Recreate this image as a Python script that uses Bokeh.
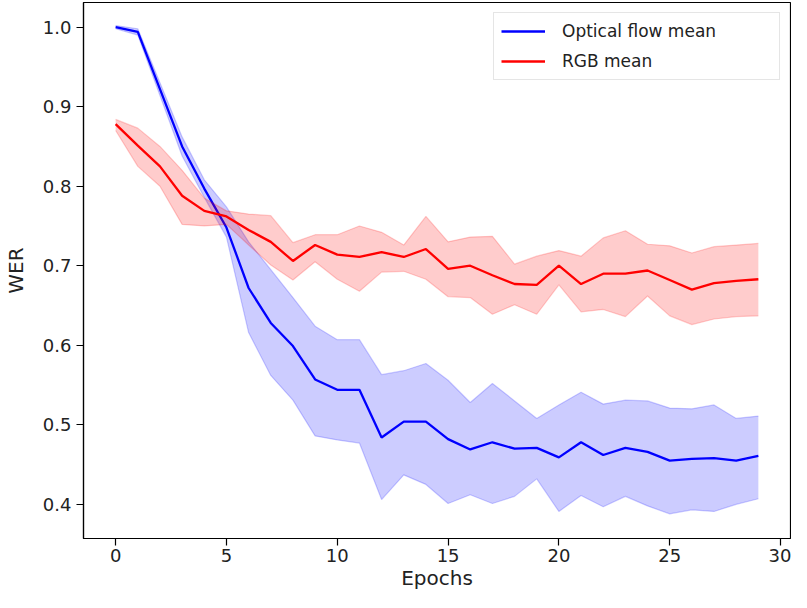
from bokeh.plotting import figure
from bokeh.models import Range1d, FixedTicker, Legend, LegendItem, NumeralTickFormatter
from bokeh.embed import file_html
from bokeh.resources import INLINE

epochs = list(range(30))

flow_mean = [1.000, 0.994, 0.922, 0.850, 0.797, 0.748, 0.672, 0.628, 0.599, 0.557,
             0.544, 0.544, 0.484, 0.504, 0.504, 0.482, 0.469, 0.478, 0.470, 0.471,
             0.459, 0.478, 0.462, 0.471, 0.466, 0.455, 0.457, 0.458, 0.455, 0.461]
flow_upper = [1.002, 0.998, 0.930, 0.862, 0.808, 0.774, 0.730, 0.695, 0.660, 0.624,
              0.607, 0.607, 0.563, 0.568, 0.577, 0.556, 0.528, 0.552, 0.530, 0.508,
              0.525, 0.541, 0.526, 0.531, 0.530, 0.521, 0.520, 0.525, 0.508, 0.511]
flow_lower = [0.998, 0.990, 0.914, 0.838, 0.786, 0.736, 0.616, 0.562, 0.531, 0.486,
              0.481, 0.477, 0.406, 0.437, 0.425, 0.401, 0.412, 0.401, 0.410, 0.432,
              0.391, 0.411, 0.397, 0.410, 0.398, 0.388, 0.393, 0.391, 0.400, 0.407]

rgb_mean = [0.878, 0.851, 0.825, 0.788, 0.769, 0.762, 0.745, 0.730, 0.706, 0.726,
            0.714, 0.711, 0.717, 0.711, 0.721, 0.696, 0.700, 0.688, 0.677, 0.676,
            0.700, 0.677, 0.690, 0.690, 0.694, 0.682, 0.670, 0.678, 0.681, 0.683]
rgb_upper = [0.884, 0.873, 0.850, 0.820, 0.785, 0.769, 0.765, 0.763, 0.729, 0.739,
             0.739, 0.750, 0.742, 0.726, 0.762, 0.730, 0.736, 0.737, 0.702, 0.712,
             0.719, 0.712, 0.735, 0.744, 0.727, 0.725, 0.716, 0.724, 0.726, 0.728]
rgb_lower = [0.870, 0.825, 0.800, 0.752, 0.750, 0.752, 0.726, 0.701, 0.682, 0.705,
             0.683, 0.668, 0.692, 0.693, 0.683, 0.661, 0.660, 0.639, 0.651, 0.639,
             0.676, 0.642, 0.645, 0.636, 0.662, 0.637, 0.626, 0.633, 0.636, 0.637]

x_ticks = [0, 5, 10, 15, 20, 25, 30]
y_ticks = [0.4, 0.5, 0.6, 0.7, 0.8, 0.9, 1.0]

FONT = "DejaVu Sans"

p = figure(width=791, height=592, output_backend="svg", toolbar_location=None,
           x_range=Range1d(-1.45, 30.45), y_range=Range1d(0.357, 1.031),
           min_border_left=78, min_border_right=1, min_border_top=2, min_border_bottom=0)

p.grid.visible = False
p.outline_line_color = "black"
p.outline_line_width = 1.2
p.background_fill_color = "white"
p.border_fill_color = "white"

# bands and means
p.varea(x=epochs, y1=flow_lower, y2=flow_upper, fill_color="blue", fill_alpha=0.2)
p.line(epochs, flow_upper, line_color="blue", line_alpha=0.2, line_width=1.2)
p.line(epochs, flow_lower, line_color="blue", line_alpha=0.2, line_width=1.2)
l_flow = p.line(epochs, flow_mean, line_color="blue", line_width=2.3)

p.varea(x=epochs, y1=rgb_lower, y2=rgb_upper, fill_color="red", fill_alpha=0.2)
p.line(epochs, rgb_upper, line_color="red", line_alpha=0.2, line_width=1.2)
p.line(epochs, rgb_lower, line_color="red", line_alpha=0.2, line_width=1.2)
l_rgb = p.line(epochs, rgb_mean, line_color="red", line_width=2.3)

for ax in (p.xaxis[0], p.yaxis[0]):
    ax.axis_line_color = "black"
    ax.axis_line_width = 1.2
    ax.major_tick_line_color = "black"
    ax.major_tick_line_width = 1.2
    ax.major_tick_in = 0
    ax.major_tick_out = 7
    ax.minor_tick_line_color = None
    ax.major_label_text_font = FONT
    ax.major_label_text_font_size = "18px"
    ax.major_label_text_color = "#222222"
    ax.axis_label_text_font = FONT
    ax.axis_label_text_font_size = "20px"
    ax.axis_label_text_font_style = "normal"
    ax.axis_label_text_color = "#222222"

p.xaxis.major_label_standoff = 3
p.yaxis.major_label_standoff = 5
p.xaxis.ticker = FixedTicker(ticks=x_ticks)
p.yaxis.ticker = FixedTicker(ticks=y_ticks)
p.yaxis.formatter = NumeralTickFormatter(format="0.0")
p.xaxis.axis_label = "Epochs"
p.yaxis.axis_label = "WER"
p.xaxis.axis_label_standoff = 1
p.yaxis.axis_label_standoff = 12

legend = Legend(items=[LegendItem(label="Optical flow mean", renderers=[l_flow]),
                       LegendItem(label="RGB mean", renderers=[l_rgb])],
                location="top_right")
legend.margin = 10
legend.padding = 7
legend.spacing = 8
legend.label_height = 22
legend.glyph_height = 22
legend.glyph_width = 44
legend.label_standoff = 17
legend.label_width = 210
legend.label_text_font = FONT
legend.label_text_font_size = "17px"
legend.label_text_color = "#222222"
legend.border_line_color = "#cccccc"
legend.border_line_width = 1
legend.background_fill_color = "white"
legend.background_fill_alpha = 0.8
p.add_layout(legend)

open("out.html", "w").write(file_html(p, INLINE))
